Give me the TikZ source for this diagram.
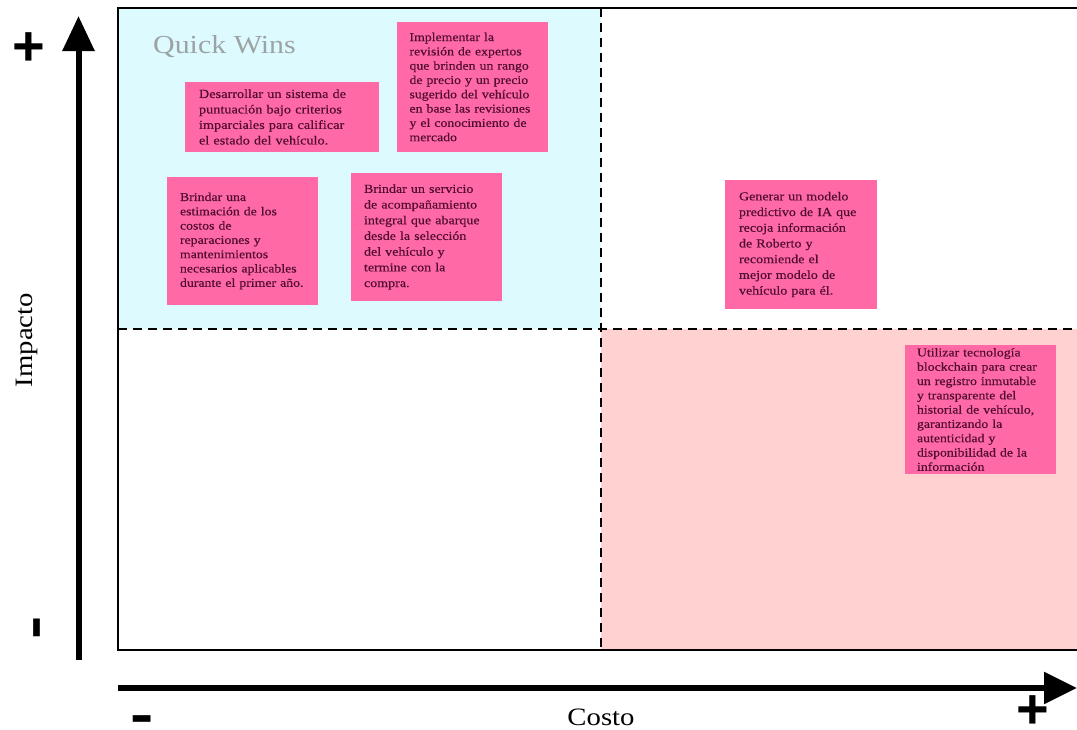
\documentclass[tikz,border=0pt]{standalone}
\usepackage{fontspec}
\setmainfont[FakeStretch=1.15]{Liberation Serif}
\newfontfamily\notefont[FakeStretch=1.15,FakeBold=0.35]{Liberation Serif}
\newfontfamily\signfont{Liberation Sans}
\usetikzlibrary{arrows.meta}
\definecolor{qwcyan}{HTML}{DDFBFE}
\definecolor{costpink}{HTML}{FFD1D1}
\definecolor{notepink}{HTML}{FF69A6}
\definecolor{noteink}{HTML}{520C32}
\definecolor{titlegray}{HTML}{9DA3A4}
\tikzset{
  note/.style={fill=notepink, text=noteink, align=left, inner xsep=0pt, inner ysep=0pt},
  tightset/.style={font=\notefont\fontsize{12}{14.3}\selectfont},
  looseset/.style={font=\notefont\fontsize{12.2}{15.7}\selectfont},
  divider/.style={line width=2.4pt, dash pattern=on 9pt off 6pt},
  vaxis/.style={line width=6pt, -{Triangle[length=35pt,width=31pt]}},
  haxis/.style={line width=5.5pt, -{Triangle[length=33pt,width=31pt]}},
  sign/.style={font=\signfont\bfseries\fontsize{56}{56}\selectfont, inner sep=0pt},
  axislabel/.style={font=\fontsize{25}{25}\selectfont}
}
\begin{document}
\begin{tikzpicture}[x=1pt,y=-1pt]
\useasboundingbox (0,0) rectangle (1077,729);
% quadrant shading
\fill[qwcyan] (118,8) rectangle (601,329);
\fill[costpink] (601,329) rectangle (1077,650);
% frame
\draw[line width=2.2pt] (1077,8) -- (118,8) -- (118,650) -- (1077,650);
% quadrant dividers
\draw[divider] (601,8) -- (601,650);
\draw[divider] (118,329) -- (1077,329);
% axes
\coordinate (ybase) at (78.5,660);
\coordinate (ytip) at (78.5,16);
\coordinate (xbase) at (118,688);
\coordinate (xtip) at (1077,688);
\draw[vaxis] (ybase) -- (ytip);
\draw[haxis] (xbase) -- (xtip);
\node[sign] (yplus) at (29,49) {+};
\node[sign, rotate=90, xscale=1.25] (yminus) at (43,628) {-};
\node[sign, xscale=1.25] (xminus) at (142,725) {-};
\node[sign] (xplus) at (1033,712) {+};
\node[axislabel, rotate=90] (ylabel) at (27,340) {Impacto};
\node[axislabel] (xlabel) at (601,717) {Costo};
% quadrant title
\node[font=\fontsize{26}{26}\selectfont, text=titlegray, anchor=west, inner sep=0pt] (qw) at (153,47) {Quick Wins};
% ideas
\node[note, minimum width=194pt, minimum height=70pt, text width=166pt,
  font=\notefont\fontsize{12.4}{15.5}\selectfont] (n1) at (282,117)
  {Desarrollar un sistema de\\puntuación bajo criterios\\imparciales para calificar\\el estado del vehículo.};
\node[note, tightset, minimum width=151pt, minimum height=130pt, text width=126pt] (n2) at (472.5,87)
  {Implementar la\\revisión de expertos\\que brinden un rango\\de precio y un precio\\sugerido del vehículo\\en base las revisiones\\y el conocimiento de\\mercado};
\node[note, tightset, minimum width=151pt, minimum height=128pt, text width=125pt] (n3) at (242.5,241)
  {Brindar una\\estimación de los\\costos de\\reparaciones y\\mantenimientos\\necesarios aplicables\\durante el primer año.};
\node[note, looseset, minimum width=151pt, minimum height=128pt, text width=125pt] (n4) at (426.5,237)
  {Brindar un servicio\\de acompañamiento\\integral que abarque\\desde la selección\\del vehículo y\\termine con la\\compra.};
\node[note, looseset, minimum width=152pt, minimum height=129pt, text width=124pt] (n5) at (801,244.5)
  {Generar un modelo\\predictivo de IA que\\recoja información\\de Roberto y\\recomiende el\\mejor modelo de\\vehículo para él.};
\node[note, tightset, minimum width=151pt, minimum height=129pt, text width=127pt] (n6) at (980.5,409.5)
  {Utilizar tecnología\\blockchain para crear\\un registro inmutable\\y transparente del\\historial de vehículo,\\garantizando la\\autenticidad y\\disponibilidad de la\\información};
\end{tikzpicture}
\end{document}
